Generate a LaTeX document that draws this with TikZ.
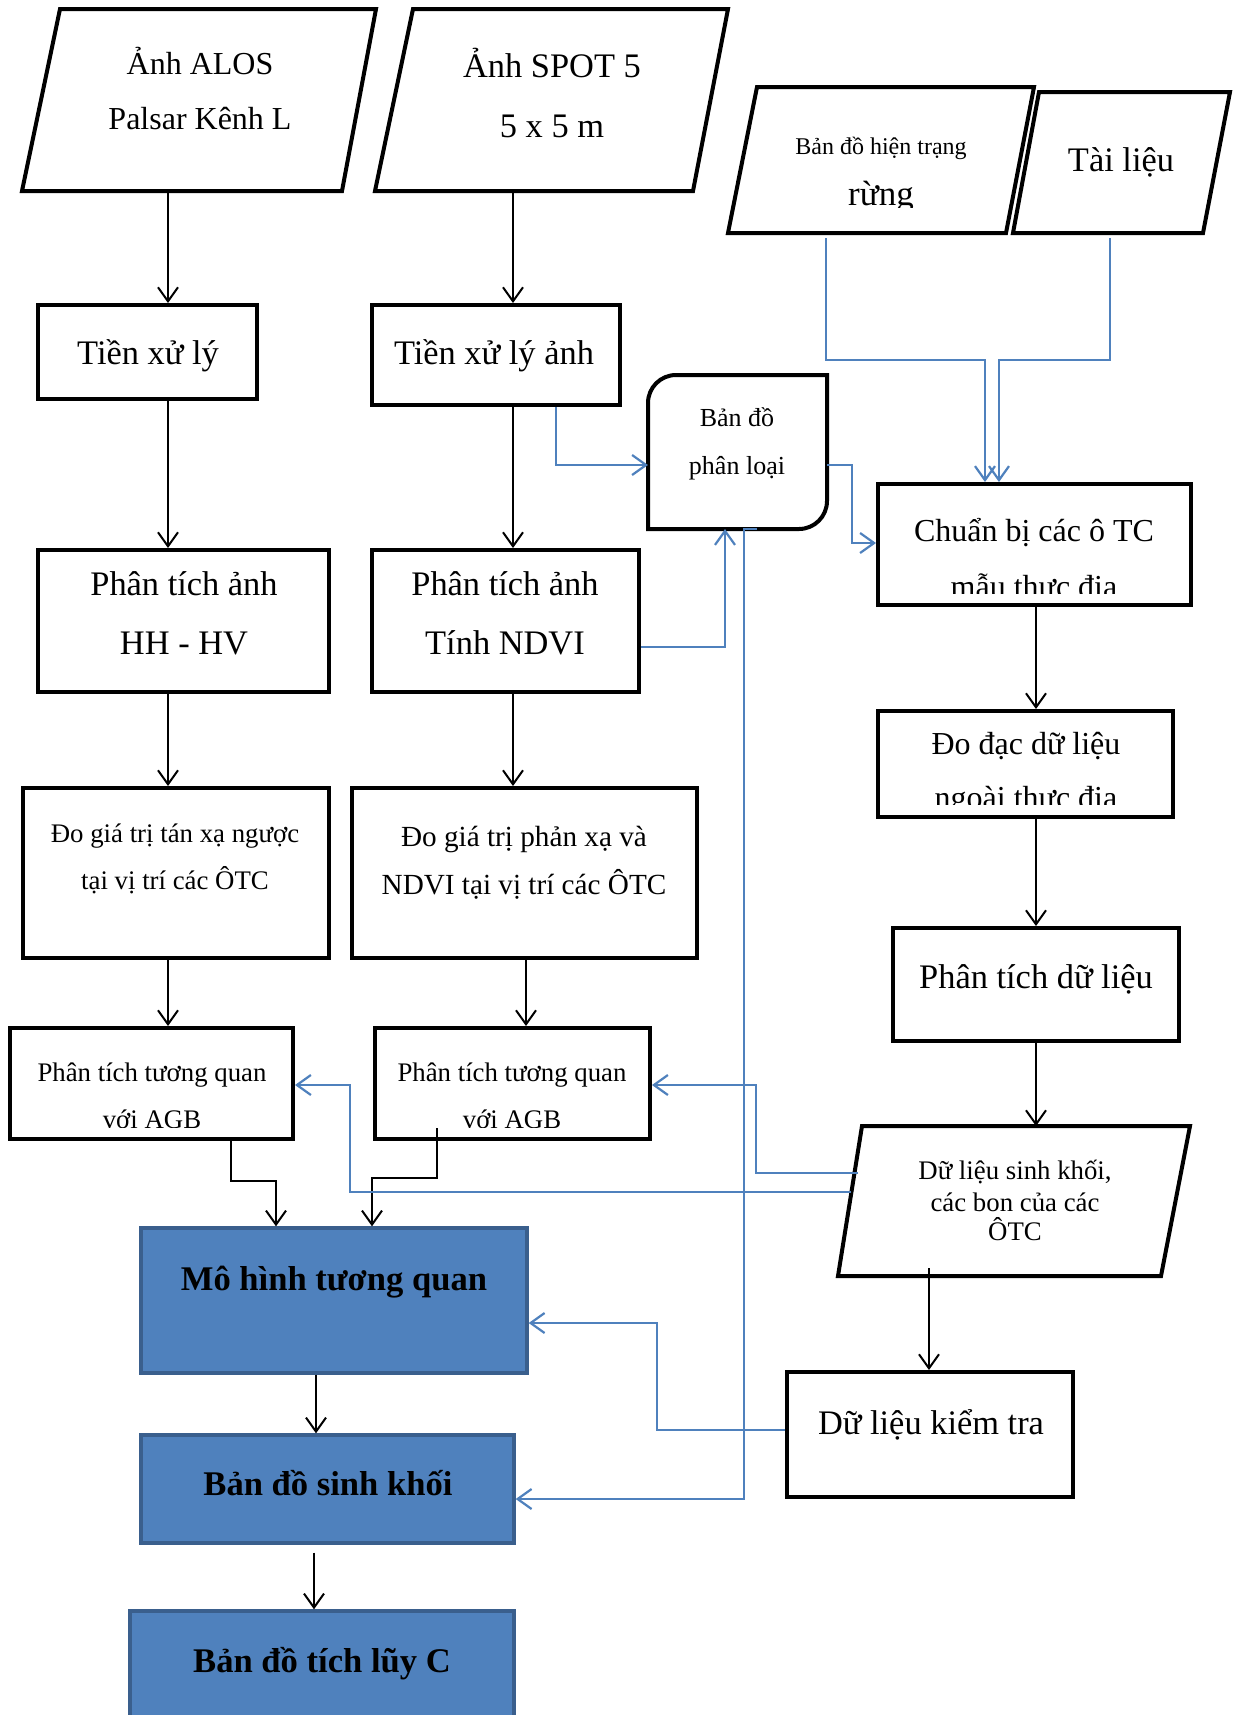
\documentclass[tikz,border=0pt]{standalone}
\usepackage{fontspec}
\setmainfont{Liberation Serif}
\usetikzlibrary{arrows.meta,fit}
\definecolor{lnblue}{HTML}{4F81BD}
\definecolor{fillblue}{HTML}{4F81BD}
\definecolor{edgeblue}{HTML}{3A5F8D}
\tikzset{
  boxline/.style={draw=black, line width=2pt},
  rbox/.style={boxline, inner sep=0pt},
  hid/.style={inner sep=0pt, outer sep=0pt},
  bbox/.style={draw=edgeblue, fill=fillblue, line width=1.7pt, inner sep=0pt},
  arr/.style={draw=black, line width=1pt, -{Straight Barb[length=7pt,width=10pt]}},
  barr/.style={draw=lnblue, line width=1.1pt, -{Straight Barb[length=7pt,width=10pt]}},
  lbl/.style={anchor=base, inner sep=0pt, outer sep=0pt},
  fA/.style={lbl, font=\fontsize{17.2}{20}\selectfont},
  fB/.style={lbl, font=\fontsize{16}{19}\selectfont},
  fC/.style={lbl, font=\fontsize{14.6}{17}\selectfont},
  fD/.style={lbl, font=\fontsize{13.4}{16}\selectfont},
  fE/.style={lbl, font=\fontsize{12}{14}\selectfont},
  fBold/.style={lbl, font=\fontsize{17.3}{20}\selectfont\bfseries},
}
\begin{document}
\begin{tikzpicture}[x=0.5pt,y=-0.5pt]
\useasboundingbox (0,0) rectangle (1240,1715);
\fill[white] (0,0) rectangle (1240,1715);

% ---------- input parallelograms ----------
\node[hid, fit={(22,9) (376,191)}] (alos) {};
\draw[boxline] (60,9) -- (376,9) -- (342,191) -- (22,191) -- cycle;
\node[fB] (alos1) at (200,74) {Ảnh ALOS};
\node[fB] (alos2) at (200,129) {Palsar Kênh L};

\node[hid, fit={(375,9) (728,191)}] (spot) {};
\draw[boxline] (413,9) -- (728,9) -- (693,191) -- (375,191) -- cycle;
\node[fA] (spot1) at (552,77) {Ảnh SPOT 5};
\node[fA] (spot2) at (552,137) {5 x 5 m};

\node[hid, fit={(728,87) (1034,233)}] (ht) {};
\draw[boxline] (757,87) -- (1034,87) -- (1006,233) -- (728,233) -- cycle;
\node[fE] (ht1) at (881,154) {Bản đồ hiện trạng};
\begin{scope}
  \clip (740,90) rectangle (1020,207);
  \node[lbl, font=\fontsize{17.5}{20}\selectfont] (ht2) at (881,205) {rừng};
\end{scope}

\node[hid, fit={(1013,92) (1230,233)}] (tl) {};
\draw[boxline] (1039,92) -- (1230,92) -- (1203,233) -- (1013,233) -- cycle;
\node[fA] (tl1) at (1121,171) {Tài liệu};

% ---------- left column ----------
\node[rbox, fit={(38,305) (257,399)}] (txl) {};
\node[fA] (txl1) at (148,364) {Tiền xử lý};

\node[rbox, fit={(38,550) (329,692)}] (pta) {};
\node[fA] (pta1) at (184,595) {Phân tích ảnh};
\node[fA] (pta2) at (184,654) {HH - HV};

\node[rbox, fit={(23,788) (329,958)}] (doa) {};
\node[fD] (doa1) at (175,842) {Đo giá trị tán xạ ngược};
\node[fD] (doa2) at (175,889) {tại vị trí các ÔTC};

\node[rbox, fit={(10,1028) (293,1139)}] (tqa) {};
\node[fD] (tqa1) at (152,1081) {Phân tích tương quan};
\begin{scope}
  \clip (14,1032) rectangle (290,1127);
  \node[fD] (tqa2) at (152,1128) {với AGB};
\end{scope}

% ---------- middle column ----------
\node[rbox, fit={(372,305) (620,405)}] (txla) {};
\node[fA] (txla1) at (494,364) {Tiền xử lý ảnh};

\node[rbox, fit={(372,550) (639,692)}] (ptb) {};
\node[fA] (ptb1) at (505,595) {Phân tích ảnh};
\node[fA] (ptb2) at (505,654) {Tính NDVI};

\node[rbox, fit={(352,788) (697,958)}] (dob) {};
\node[fC] (dob1) at (524,846) {Đo giá trị phản xạ và};
\node[fC] (dob2) at (524,894) {NDVI tại vị trí các ÔTC};

\node[rbox, fit={(375,1028) (650,1139)}] (tqb) {};
\node[fD] (tqb1) at (512,1081) {Phân tích tương quan};
\begin{scope}
  \clip (379,1032) rectangle (646,1127);
  \node[fD] (tqb2) at (512,1128) {với AGB};
\end{scope}

% ---------- classification map ----------
\node[hid, fit={(648,375) (827,529)}] (bpl) {};
\draw[boxline] ([yshift=-14pt]bpl.north west) arc[start angle=180, end angle=90, radius=14pt]
  -- (bpl.north east) -- ([yshift=14pt]bpl.south east) arc[start angle=0, end angle=-90, radius=14pt]
  -- (bpl.south west) -- cycle;
\node[lbl, font=\fontsize{13}{15}\selectfont] (bpl1) at (737,426) {Bản đồ};
\node[lbl, font=\fontsize{13}{15}\selectfont] (bpl2) at (737,474) {phân loại};

% ---------- blue output boxes ----------
\node[bbox, fit={(141,1228) (527,1373)}] (mh) {};
\node[fBold] (mh1) at (334,1290) {Mô hình tương quan};

\node[bbox, fit={(141,1435) (514,1543)}] (bsk) {};
\node[fBold] (bsk1) at (328,1495) {Bản đồ sinh khối};

\node[bbox, fit={(130,1611) (514,1740)}] (btl) {};
\node[fBold] (btl1) at (322,1672) {Bản đồ tích lũy C};

% ---------- right column ----------
\node[rbox, fit={(878,484) (1191,605)}] (cb) {};
\node[fB] (cb1) at (1034,541) {Chuẩn bị các ô TC};
\begin{scope}
  \clip (882,488) rectangle (1187,593);
  \node[fB] (cb2) at (1034,597) {mẫu thực địa};
\end{scope}

\node[rbox, fit={(878,711) (1173,817)}] (dd) {};
\node[fB] (dd1) at (1026,754) {Đo đạc dữ liệu};
\begin{scope}
  \clip (882,715) rectangle (1169,804);
  \node[fB] (dd2) at (1026,808) {ngoài thực địa};
\end{scope}

\node[rbox, fit={(893,928) (1179,1041)}] (ptdl) {};
\node[fA] (ptdl1) at (1036,988) {Phân tích dữ liệu};

\node[hid, fit={(838,1126) (1190,1276)}] (dlsk) {};
\draw[boxline] (862,1126) -- (1190,1126) -- (1161,1276) -- (838,1276) -- cycle;
\coordinate (dlskA) at (858,1173);
\coordinate (dlskB) at (851,1192);
\node[fD] (dlsk1) at (1015,1179) {Dữ liệu sinh khối,};
\node[fD] (dlsk2) at (1015,1211) {các bon của các};
\node[fD] (dlsk3) at (1015,1240) {ÔTC};

\node[rbox, fit={(787,1372) (1073,1497)}] (kt) {};
\node[fA] (kt1) at (931,1434) {Dữ liệu kiểm tra};

% ---------- black connectors ----------
\draw[arr] (alos.south -| 168,0) -- (txl.north -| 168,0);
\draw[arr] (spot.south -| 513,0) -- (txla.north -| 513,0);
\draw[arr] (txl.south -| 168,0) -- (pta.north -| 168,0);
\draw[arr] (txla.south -| 513,0) -- (ptb.north -| 513,0);
\draw[arr] (pta.south -| 168,0) -- (doa.north -| 168,0);
\draw[arr] (ptb.south -| 513,0) -- (dob.north -| 513,0);
\draw[arr] (doa.south -| 168,0) -- (tqa.north -| 168,0);
\draw[arr] (dob.south -| 526,0) -- (tqb.north -| 526,0);
\draw[arr] (tqa.south -| 231,0) |- (276,1181) -- (mh.north -| 276,0);
\draw[arr, shorten <=-6.5pt] (tqb.south -| 437,0) -- (437,1178) -| (mh.north -| 372,0);
\draw[arr] (mh.south -| 316,0) -- (bsk.north -| 316,0);
\draw[arr, shorten <=4pt] (bsk.south -| 314,0) -- (btl.north -| 314,0);
\draw[arr] (cb.south -| 1036,0) -- (dd.north -| 1036,0);
\draw[arr] (dd.south -| 1036,0) -- (ptdl.north -| 1036,0);
\draw[arr] (ptdl.south -| 1036,0) -- (dlsk.north -| 1036,0);
\draw[arr, shorten <=-4pt] (dlsk.south -| 929,0) -- (kt.north -| 929,0);

% ---------- blue connectors ----------
\draw[barr, shorten <=2.5pt] (ht.south -| 826,0) -- (826,360) -| (cb.north -| 985,0);
\draw[barr, shorten <=2.5pt] (tl.south -| 1110,0) -- (1110,360) -| (cb.north -| 999,0);
\draw[barr] (txla.south -| 556,0) -- (556,465) -- (bpl.west |- 0,465);
\draw[barr] (bpl.east |- 0,465) -| (852,543) -- (cb.west |- 0,543);
\draw[barr] (ptb.east |- 0,647) -| (bpl.south -| 725,0);
\draw[barr] (bpl.south -| 757,0) -| (744,1499) -- (bsk.east |- 0,1499);
\draw[barr] (dlskA) -| (756,1085) -- (tqb.east |- 0,1085);
\draw[barr] (dlskB) -| (350,1085) -- (tqa.east |- 0,1085);
\draw[barr] (kt.west |- 0,1430) -| (657,1323) -- (mh.east |- 0,1323);
\end{tikzpicture}
\end{document}
